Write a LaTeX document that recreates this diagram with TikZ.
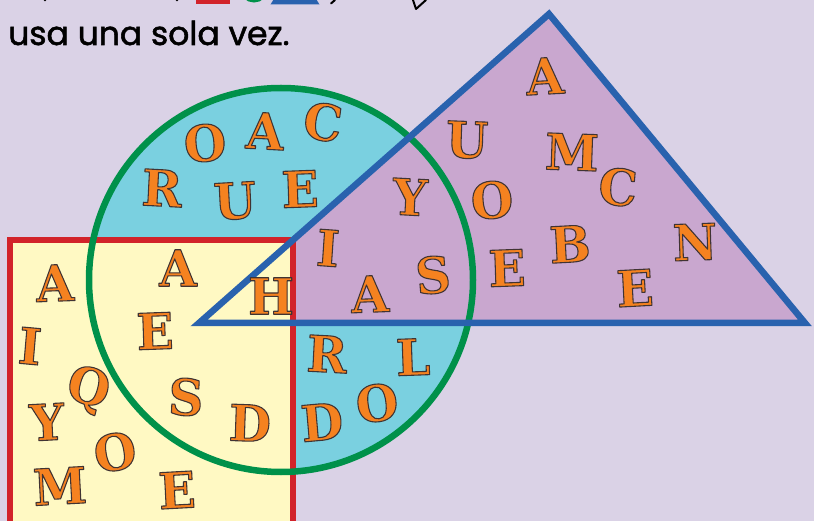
\documentclass[tikz,border=0pt]{standalone}
\usepackage{fontspec}
\newfontfamily\letterfont{DejaVu Serif Bold}
\newfontfamily\headfont{Poppins}[FakeBold=1.6]
\definecolor{bgc}{HTML}{DAD2E6}
\definecolor{sqfill}{HTML}{FFF9C3}
\definecolor{sqred}{HTML}{D2232A}
\definecolor{cifill}{HTML}{7AD0E0}
\definecolor{cigreen}{HTML}{00914A}
\definecolor{trfill}{HTML}{C9A7CF}
\definecolor{trblue}{HTML}{2962AE}
\definecolor{lorange}{HTML}{F58220}
\newcommand\outl[1]{\special{pdf:literal direct 0.25 0.2 0.2 RG 1.1 w 1 j 2 Tr}#1\special{pdf:literal direct 0 Tr}}
\tikzset{
  lt/.style={font=\letterfont\fontsize{50}{50}\selectfont, text=lorange, inner sep=0pt, anchor=center, xscale=0.97},
  edge6/.style={line width=6.5pt},
}
\begin{document}
\begin{tikzpicture}[x=1pt,y=-1pt,line join=miter]
\useasboundingbox (0,0) rectangle (814,521);
\fill[bgc] (0,0) rectangle (814,521);
\begin{scope}
\clip (0,0) rectangle (814,521);
% fills
\fill[cifill] (281,280) circle[radius=192];
\fill[trfill] (199,323) -- (549,14) -- (805,323) -- cycle;
\fill[sqfill] (10,240) rectangle (293,560);
% strokes
\draw[sqred, edge6] (10,560) -- (10,240) -- (293,240) -- (293,560);
\draw[cigreen, edge6] (281,280) circle[radius=192];
\draw[trblue, edge6] (199,323) -- (549,14) -- (805,323) -- cycle;
% top partial icons
\draw[sqred, line width=5pt] (198,-30) rectangle (227,1.5);
\draw[cigreen, line width=5pt] (254,-12) circle[radius=12];
\draw[trblue, line width=5pt] (275,2) -- (315,2) -- (295,-30) -- cycle;
\draw[black, line width=2pt, line cap=round] (335,0) -- (331,3.5);
\draw[black, line width=2pt, line cap=round, line join=round] (413,0) -- (416,9) -- (426,0);
\fill[black] (45,0) circle[radius=1.3];
\fill[black] (177,0) circle[radius=1.3];
\end{scope}
% letters
\foreach \t/\x/\y/\r [count=\i] in {
  O/205/143/5, A/265/131/-3, C/323/122/-8, R/162/188/-3, U/235/201/3, E/300/189/2,
  Y/410/197/-3, I/328/248/-4, A/370/294/2, S/433/275/5,
  A/545/76/3, U/467/140/-2, M/572/152/-2, C/618/187/-5, O/492/200/5, N/695/242/2, B/570/244/3, E/507/268/2, E/635/288/3,
  A/55/283/2, A/178/268/0, H/271/296/0, I/30/346/-5, E/155/331/2, Q/88/390/-15, S/186/397/-3, Y/47/422/3, D/250/423/-2, O/115/452/10, M/60/486/3, E/177/490/3,
  R/327/354/-3, L/413/357/2, D/322/422/5, O/377/403/8}
  \node[lt, rotate=\r] (l\i) at (\x,\y) {\outl{\t}};
% heading
\node[font=\headfont\fontsize{33}{33}\selectfont, anchor=base west, inner sep=0pt] (head) at (8,45) {usa una sola vez.};
\end{tikzpicture}
\end{document}
